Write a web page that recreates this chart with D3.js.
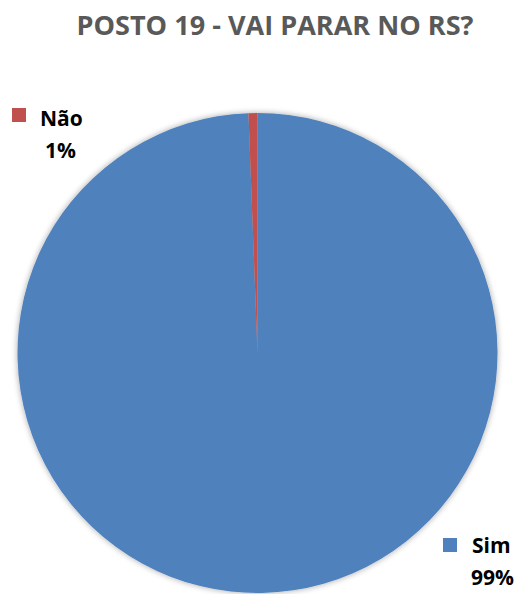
<!DOCTYPE html>
<html><head><meta charset="utf-8">
<script src="https://cdn.jsdelivr.net/npm/d3@7"></script>
<style>html,body{margin:0;padding:0;background:#fff;}</style>
</head><body>
<svg id="c" width="523" height="594"></svg>
<script>
const categories = ["Sim", "Não"];
const values = [99.4, 0.6];
const labels = ["99%", "1%"];
const colors = ["#4F81BD", "#C0504D"];

const svg = d3.select("#c");
const cx = 257.5, cy = 353, R = 240;

const defs = svg.append("defs");
const f = defs.append("filter").attr("id","sh").attr("x","-10%").attr("y","-10%").attr("width","120%").attr("height","120%");
f.append("feGaussianBlur").attr("in","SourceAlpha").attr("stdDeviation",3).attr("result","b");
f.append("feComponentTransfer").attr("in","b").attr("result","o2").append("feFuncA").attr("type","linear").attr("slope",0.35);
const m = f.append("feMerge"); m.append("feMergeNode").attr("in","o2"); m.append("feMergeNode").attr("in","SourceGraphic");

svg.append("text").attr("x", 275).attr("y", 35).attr("text-anchor","middle")
  .attr("font-family","'Open Sans', sans-serif").attr("font-weight","bold").attr("font-size",27)
  .attr("fill","#595959").attr("textLength",397).attr("lengthAdjust","spacingAndGlyphs")
  .text("POSTO 19 - VAI PARAR NO RS?");

const pie = d3.pie().sort(null).value(d => d)(values);
const arc = d3.arc().innerRadius(0).outerRadius(R);
const g = svg.append("g").attr("transform",`translate(${cx},${cy})`).attr("filter","url(#sh)");
g.selectAll("path").data(pie).join("path").attr("d", arc).attr("fill", (d,i) => colors[i]);

const leg = [
  {i:1, sx:12, sy:108, tx:40, ty:126, px:45, py:158},
  {i:0, sx:443, sy:538, tx:472, ty:553, px:471, py:585}
];
leg.forEach(l => {
  svg.append("rect").attr("x", l.sx).attr("y", l.sy).attr("width",14).attr("height",14).attr("fill", colors[l.i]);
  svg.append("text").attr("x", l.tx).attr("y", l.ty).attr("font-family","'Open Sans', sans-serif")
    .attr("font-weight","bold").attr("font-size",21).attr("fill","#000").text(categories[l.i]);
  svg.append("text").attr("x", l.px).attr("y", l.py).attr("font-family","'Open Sans', sans-serif")
    .attr("font-weight","bold").attr("font-size",21).attr("fill","#000").text(labels[l.i]);
});
</script>
</body></html>
